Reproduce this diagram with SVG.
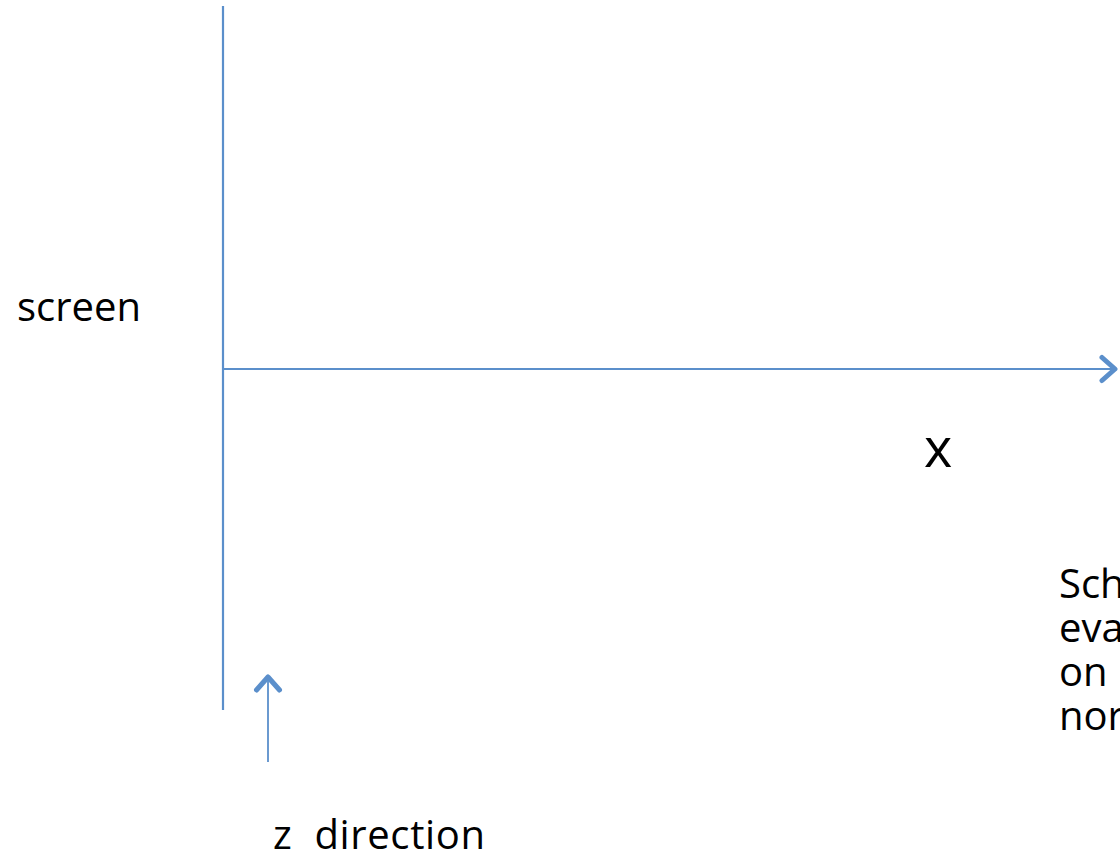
<svg xmlns="http://www.w3.org/2000/svg" width="1120" height="859" viewBox="0 0 1120 859">
<style>
.t{font-family:"Open Sans","Noto Sans","Liberation Sans",sans-serif;fill:#000}
.ln{stroke:#5b8fcb;fill:none}
</style>
<defs>
<marker id="ah" markerWidth="26" markerHeight="32" refX="17" refY="15" orient="auto" markerUnits="userSpaceOnUse">
<path d="M4,3.5 L17,15 L4,26.5" fill="none" stroke="#5b8fcb" stroke-width="5" stroke-linecap="round" stroke-linejoin="round"/>
</marker>
</defs>
<rect width="1120" height="859" fill="#fff"/>
<g id="connectors">
<line class="ln" x1="223" y1="6" x2="223" y2="710" stroke-width="2.2"/>
<line class="ln" x1="223" y1="369" x2="1115" y2="369" stroke-width="1.8" marker-end="url(#ah)"/>
<line class="ln" x1="268" y1="762" x2="268" y2="677" stroke-width="1.8" marker-end="url(#ah)"/>
</g>
<g id="screen"><text class="t" x="17" y="321" font-size="40">screen</text></g>
<g id="xlabel"><text class="t" x="924" y="467" font-size="54" font-weight="500">x</text></g>
<g id="zdir"><text class="t" x="273" y="849" font-size="40" xml:space="preserve" style="white-space:pre" textLength="212" lengthAdjust="spacing">z  direction</text></g>
<g id="note">
<text class="t" x="1059" y="598" font-size="40">Sch</text>
<text class="t" x="1059" y="642" font-size="40">eva</text>
<text class="t" x="1059" y="686" font-size="40">on</text>
<text class="t" x="1059" y="730" font-size="40">nor</text>
</g>
</svg>
